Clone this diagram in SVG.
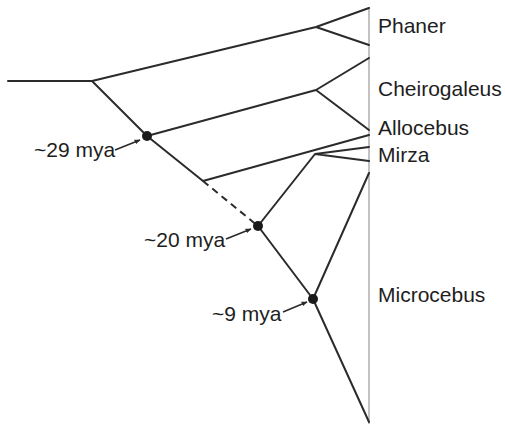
<svg xmlns="http://www.w3.org/2000/svg" width="505" height="426" viewBox="0 0 505 426">
<defs>
<style>
.br{stroke:#2b2b2b;stroke-width:2;fill:none;stroke-linecap:round;stroke-linejoin:round}
.dash{stroke-dasharray:7 5;stroke-linecap:butt}
.axis{stroke:#9a9a9a;stroke-width:1.2;fill:none}
.lbl{font-family:"Liberation Sans",Arial,sans-serif;font-size:21px;fill:#1e1e1e}
.dot{fill:#1a1a1a}
.arr{stroke:#2b2b2b;stroke-width:1.6;fill:none;marker-end:url(#ah)}
</style>
<marker id="ah" viewBox="0 0 10 10" refX="9" refY="5" markerWidth="6" markerHeight="6" orient="auto" markerUnits="userSpaceOnUse">
<path d="M0,1 L10,5 L0,9 z" fill="#2b2b2b"/>
</marker>
</defs>
<rect width="505" height="426" fill="#ffffff"/>
<line class="axis" x1="369" y1="7" x2="369" y2="424"/>
<g id="connectors">
<path class="br" d="M8,81 H92 L316,27 L369,8 M316,27 L369,45"/>
<path class="br" d="M92,81 L147,136 L316,90 L369,58 M316,90 L369,130"/>
<path class="br" d="M147,136 L203,181 L369,135"/>
<path class="br dash" d="M203,181 L258,226"/>
<path class="br" d="M258,226 L315,154 L369,147 M315,154 L369,161"/>
<path class="br" d="M258,226 L313,299 L369,173 M313,299 L369,422"/>
<path class="arr" d="M115,150 L140,140"/>
<path class="arr" d="M226,239 L251,229"/>
<path class="arr" d="M283,312 L307,302"/>
</g>
<g id="node-29"><circle class="dot" cx="147" cy="136" r="5"/><text class="lbl" x="34" y="157">~29 mya</text></g>
<g id="node-20"><circle class="dot" cx="258" cy="226" r="5"/><text class="lbl" x="144" y="247">~20 mya</text></g>
<g id="node-9"><circle class="dot" cx="313" cy="299" r="5"/><text class="lbl" x="212" y="321">~9 mya</text></g>
<g id="phaner"><text class="lbl" x="378" y="33">Phaner</text></g>
<g id="cheirogaleus"><text class="lbl" x="378" y="96">Cheirogaleus</text></g>
<g id="allocebus"><text class="lbl" x="378" y="135">Allocebus</text></g>
<g id="mirza"><text class="lbl" x="378" y="162">Mirza</text></g>
<g id="microcebus"><text class="lbl" x="378" y="302">Microcebus</text></g>
</svg>
